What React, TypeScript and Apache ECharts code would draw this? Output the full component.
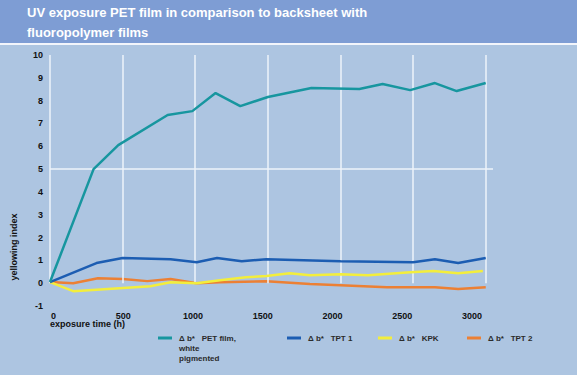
import React, { useEffect, useRef } from "react";
import * as echarts from "echarts";

const titleLines = ["UV exposure PET film in comparison to backsheet with", "fluoropolymer films"];
const xTickLabels = [0, 500, 1000, 1500, 2000, 2500, 3000];
const yAxisName = "yellowing index";
const xAxisName = "exposure time (h)";

const petHours = [0, 300, 470, 810, 980, 1140, 1310, 1500, 1800, 2130, 2290, 2480, 2650, 2800, 3000];
const petValues = [0.05, 5.0, 6.05, 7.37, 7.54, 8.33, 7.76, 8.16, 8.55, 8.51, 8.73, 8.46, 8.77, 8.42, 8.77];

const tpt1Hours = [0, 320, 500, 830, 1010, 1150, 1320, 1490, 2000, 2500, 2650, 2810, 3000];
const tpt1Values = [0.05, 0.88, 1.1, 1.05, 0.92, 1.1, 0.96, 1.05, 0.96, 0.92, 1.05, 0.88, 1.1];

const kpkHours = [0, 160, 690, 830, 1010, 1170, 1350, 1490, 1650, 1790, 2000, 2190, 2480, 2640, 2810, 2980];
const kpkValues = [0.05, -0.35, -0.13, 0.04, 0, 0.13, 0.26, 0.31, 0.44, 0.35, 0.39, 0.35, 0.48, 0.53, 0.44, 0.53];

const tpt2Hours = [0, 160, 330, 500, 670, 830, 1010, 1170, 1490, 1790, 2000, 2320, 2650, 2810, 3000];
const tpt2Values = [0.05, 0, 0.22, 0.18, 0.09, 0.18, 0, 0.04, 0.09, -0.04, -0.09, -0.18, -0.18, -0.26, -0.18];

const seriesNames = ["Δ b*   PET film,\nwhite\npigmented", "Δ b*   TPT 1", "Δ b*   KPK", "Δ b*   TPT 2"];
const seriesColors = ["#17969f", "#1c5db2", "#f3ee3c", "#ec8034"];

const zip = (xs: number[], ys: number[]) => xs.map((x, i) => [x, ys[i]]);

export default function App() {
  const ref = useRef<HTMLDivElement>(null);
  useEffect(() => {
    if (!ref.current) return;
    const chart = echarts.init(ref.current, null, { renderer: "svg" });
    const font = "'Liberation Sans', Arial, sans-serif";
    const white = "#eef3fa";

    const vLines = xTickLabels.slice(1).map((x) => [{ coord: [x, 0] }, { coord: [x, 10] }]);
    const gridLines = [
      ...vLines,
      [{ coord: [0, 0] }, { coord: [0, 10] }],
      [{ coord: [-20, 0] }, { coord: [3050, 0] }],
      [{ coord: [0, 5] }, { coord: [3050, 5] }],
    ];

    const dataSets = [
      zip(petHours, petValues),
      zip(tpt1Hours, tpt1Values),
      zip(kpkHours, kpkValues),
      zip(tpt2Hours, tpt2Values),
    ];

    const legendX = [158, 287, 378, 467];
    const legendGraphics: any[] = [];
    seriesNames.forEach((n, i) => {
      legendGraphics.push({
        type: "rect",
        shape: { x: legendX[i], y: 336.5, width: 14, height: 3 },
        style: { fill: seriesColors[i] },
      });
      legendGraphics.push({
        type: "text",
        x: legendX[i] + 21,
        y: 333,
        style: {
          text: n,
          font: `bold 8px ${font}`,
          fill: "#2a2a2a",
          verticalAlign: "top",
          lineHeight: 10,
        },
      });
    });

    chart.setOption({
      animation: false,
      backgroundColor: "#adc5e1",
      grid: [
        { left: 50, right: 84, top: 55, bottom: 69 },
        { left: 53.5, right: 105, top: 55, bottom: 69 },
      ],
      xAxis: [
        {
          type: "value",
          gridIndex: 0,
          min: 0,
          max: 3050,
          interval: 500,
          axisLine: { show: false },
          axisTick: { show: false },
          axisLabel: { show: false },
          splitLine: { show: false },
        },
        {
          type: "value",
          gridIndex: 1,
          min: 0,
          max: 3000,
          interval: 500,
          axisLine: { show: false },
          axisTick: { show: false },
          splitLine: { show: false },
          axisLabel: {
            show: true,
            margin: 5,
            color: "#111",
            fontSize: 9,
            fontWeight: "bold",
            fontFamily: font,
            formatter: (v: number) => String(v),
          },
        },
      ],
      yAxis: [
        {
          type: "value",
          gridIndex: 0,
          min: -1,
          max: 10,
          interval: 1,
          axisLine: { show: false },
          axisTick: { show: false },
          splitLine: { show: false },
          axisLabel: {
            margin: 7,
            color: "#111",
            fontSize: 9,
            fontWeight: "bold",
            fontFamily: font,
          },
        },
        {
          type: "value",
          gridIndex: 1,
          min: -1,
          max: 10,
          show: false,
          splitLine: { show: false },
        },
      ],
      series: [
        {
          type: "line",
          xAxisIndex: 0,
          yAxisIndex: 0,
          data: [],
          z: 1,
          silent: true,
          markLine: {
            silent: true,
            symbol: ["none", "none"],
            label: { show: false },
            lineStyle: { color: white, width: 1.5, type: "solid" },
            data: gridLines,
          },
        },
        ...dataSets.map((d, i) => ({
          type: "line",
          name: seriesNames[i],
          xAxisIndex: 0,
          yAxisIndex: 0,
          data: d,
          z: 5 - i + 2,
          symbol: "none",
          clip: false,
          lineStyle: { color: seriesColors[i], width: 2.5 },
          itemStyle: { color: seriesColors[i] },
        })),
      ],
      graphic: [
        { type: "rect", shape: { x: 0, y: 0, width: 577, height: 43 }, style: { fill: "#7e9dd4" } },
        { type: "rect", shape: { x: 0, y: 43, width: 577, height: 2 }, style: { fill: "#f2f5fb" } },
        {
          type: "text",
          x: 27,
          y: 12,
          style: { text: titleLines[0], font: `bold 13px ${font}`, fill: "#ffffff", verticalAlign: "middle" },
        },
        {
          type: "text",
          x: 27,
          y: 32,
          style: { text: titleLines[1], font: `bold 13px ${font}`, fill: "#ffffff", verticalAlign: "middle" },
        },
        {
          type: "text",
          x: 14,
          y: 247,
          rotation: Math.PI / 2,
          style: { text: yAxisName, font: `bold 9px ${font}`, fill: "#111", align: "center", verticalAlign: "middle" },
        },
        {
          type: "text",
          x: 50,
          y: 324,
          style: { text: xAxisName, font: `bold 9px ${font}`, fill: "#111", verticalAlign: "middle" },
        },
        ...legendGraphics,
      ],
    });
    return () => chart.dispose();
  }, []);
  return <div ref={ref} style={{ position: "fixed", left: 0, top: 0, width: 577, height: 375 }} />;
}
